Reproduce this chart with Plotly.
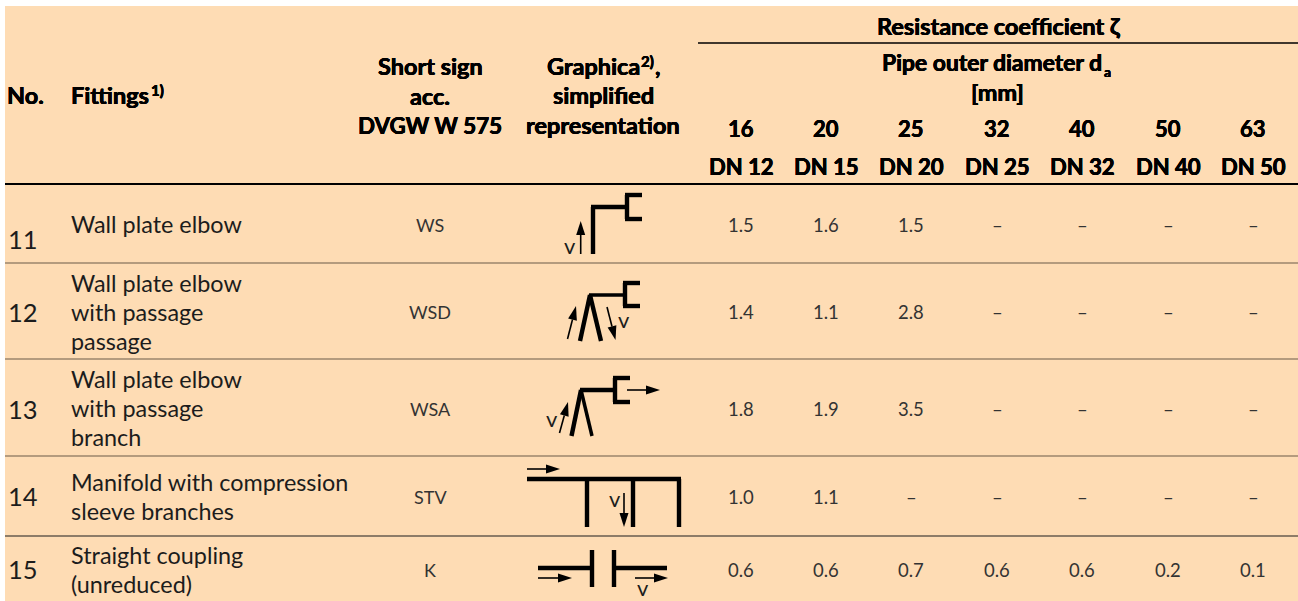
import plotly.graph_objects as go

# ---- data ----
row_numbers = ["11", "12", "13", "14", "15"]
fittings = [
    ["Wall plate elbow"],
    ["Wall plate elbow", "with passage", "passage"],
    ["Wall plate elbow", "with passage", "branch"],
    ["Manifold with compression", "sleeve branches"],
    ["Straight coupling", "(unreduced)"],
]
short_signs = ["WS", "WSD", "WSA", "STV", "K"]
diameters = ["16", "20", "25", "32", "40", "50", "63"]
nominal = ["DN 12", "DN 15", "DN 20", "DN 25", "DN 32", "DN 40", "DN 50"]
zeta_11 = ["1.5", "1.6", "1.5", "–", "–", "–", "–"]
zeta_12 = ["1.4", "1.1", "2.8", "–", "–", "–", "–"]
zeta_13 = ["1.8", "1.9", "3.5", "–", "–", "–", "–"]
zeta_14 = ["1.0", "1.1", "–", "–", "–", "–", "–"]
zeta_15 = ["0.6", "0.6", "0.7", "0.6", "0.6", "0.2", "0.1"]
zeta = [zeta_11, zeta_12, zeta_13, zeta_14, zeta_15]

# ---- layout constants (page pixels) ----
W, H = 1298, 601
BG = "#FEDCB4"
FONT = "Lato"
col_x = [741, 826, 911, 997, 1082, 1168, 1253]
row_center = [226, 313, 410, 498, 571]
num_y = [240, 313, 410, 497, 570]
fit_y = [[225], [284, 313, 342], [380, 409, 438], [483, 512], [556, 585]]
FAT = "0.35px 0 0 #000,-0.35px 0 0 #000,0 0.2px 0 #000"

ann, shapes = [], []


def text(x, y, s, size, anchor="center", weight=400, color="#1c1c1c", shadow=None):
    f = dict(family=FONT, size=size, color=color, weight=weight)
    if shadow:
        f["shadow"] = shadow
    ann.append(dict(x=x, y=y - 1, text=s, showarrow=False, xanchor=anchor, yanchor="middle",
                    xref="x", yref="y", align=anchor, borderpad=0, borderwidth=0, font=f))


def head(x, y, s, size=23.5, anchor="center"):
    text(x, y, s, size, anchor, weight=700, color="#000000", shadow=FAT)


def seg(x0, y0, x1, y1, w=4.4, color="#000000"):
    shapes.append(dict(type="line", x0=x0, y0=y0, x1=x1, y1=y1, xref="x", yref="y",
                       line=dict(color=color, width=w)))


def arrow(x0, y0, x1, y1, head_len=14, head_w=4.5):
    dx, dy = x1 - x0, y1 - y0
    n = (dx * dx + dy * dy) ** 0.5
    ux, uy = dx / n, dy / n
    bx, by = x1 - ux * head_len, y1 - uy * head_len
    seg(x0, y0, bx, by, 1.6)
    px, py = -uy * head_w, ux * head_w
    shapes.append(dict(type="path", xref="x", yref="y", line=dict(width=0), fillcolor="#000000",
                       path=f"M{x1},{y1} L{bx+px},{by+py} L{bx-px},{by-py} Z"))


# background band
shapes.append(dict(type="rect", x0=5, y0=6, x1=W, y1=H, xref="x", yref="y",
                   fillcolor=BG, line=dict(width=0), layer="below"))

# rules
seg(698, 43, W, 43, 1.6)
seg(5, 184, W, 184, 2)
for y, c in [(263, "#6b5a48"), (359, "#6b5a48"), (456, "#6b5a48"), (536, "#1c1c1c")]:
    seg(5, y, W, y, 1.2, c)

# header
head(7, 96, "No.", 23.5, "left")
head(71, 96, "Fittings", 23.5, "left")
head(151, 91, "1)", 15, "left")
for y, s, sz in zip((67, 97, 126), ("Short sign", "acc.", "DVGW W 575"), (23.5, 23.5, 22.4)):
    head(430, y, s, sz)
head(547, 67, "Graphica", 23.5, "left")
head(641, 62, "2)", 15, "left")
head(655, 67, ",", 23.5, "left")
for y, s in zip((96, 126), ("simplified", "representation")):
    head(603, y, s)
head(998, 27, "Resistance coefficient ζ", 23.5)
head(882, 63, "Pipe outer diameter d", 22.9, "left")
head(1104, 72, "a", 14, "left")
head(997, 93, "[mm]")
for x, d, n in zip(col_x, diameters, nominal):
    head(x, 129, d, 22)
    head(x, 167, n, 22)

# body
for i, num in enumerate(row_numbers):
    text(8, num_y[i], num, 25.5, "left")
    for y, line in zip(fit_y[i], fittings[i]):
        text(71, y, line, 23.4, "left")
    text(430, row_center[i], short_signs[i], 18, color="#333333")
    for x, v in zip(col_x, zeta[i]):
        text(x, row_center[i], v, 18.5, color="#333333")

# icon 11
seg(593, 254, 593, 207); seg(591, 207, 627, 207)
seg(627, 195, 627, 219); seg(625, 195, 642, 195); seg(625, 219, 642, 219)
arrow(580.7, 254, 580.7, 221)
text(570, 246, "v", 22)
# icon 12
seg(580, 341, 590, 295); seg(590, 295, 601, 341); seg(589, 295, 625, 295, 3.5)
seg(625, 283, 625, 306); seg(623, 283, 640, 283); seg(623, 306, 640, 306)
arrow(567.5, 339, 576, 306)
arrow(607, 307, 615.5, 340)
text(624, 320, "v", 22)
# icon 13
seg(571.5, 436, 581, 390); seg(581, 390, 592, 436, 3.5); seg(580, 390, 615, 390)
seg(615, 378, 615, 402); seg(613, 378, 630, 378); seg(613, 402, 630, 402)
arrow(627, 390, 660, 390)
arrow(559.5, 433, 568, 402)
text(552, 419, "v", 22)
# icon 14
seg(527, 479, 681, 479); seg(587, 479, 587, 527); seg(633, 479, 633, 527); seg(679, 479, 679, 527)
arrow(527, 469, 560, 469)
arrow(624, 493, 624, 527)
text(615, 499, "v", 22)
# icon 15
seg(538, 568, 592, 568); seg(592, 550, 592, 587); seg(614, 550, 614, 587); seg(614, 568, 667, 568)
arrow(538, 578, 572, 578)
arrow(635, 578, 668, 578)
text(643, 588, "v", 22)

fig = go.Figure()
fig.update_layout(
    width=W, height=H, margin=dict(l=0, r=0, t=0, b=0),
    paper_bgcolor="#FFFFFF", plot_bgcolor="#FFFFFF", showlegend=False,
    xaxis=dict(range=[0, W], visible=False, fixedrange=True),
    yaxis=dict(range=[H, 0], visible=False, fixedrange=True),
    shapes=shapes, annotations=ann,
)
fig.write_html("out.html", post_script="document.body.style.margin='0';document.documentElement.style.overflow='hidden';",
               config=dict(displayModeBar=False))
